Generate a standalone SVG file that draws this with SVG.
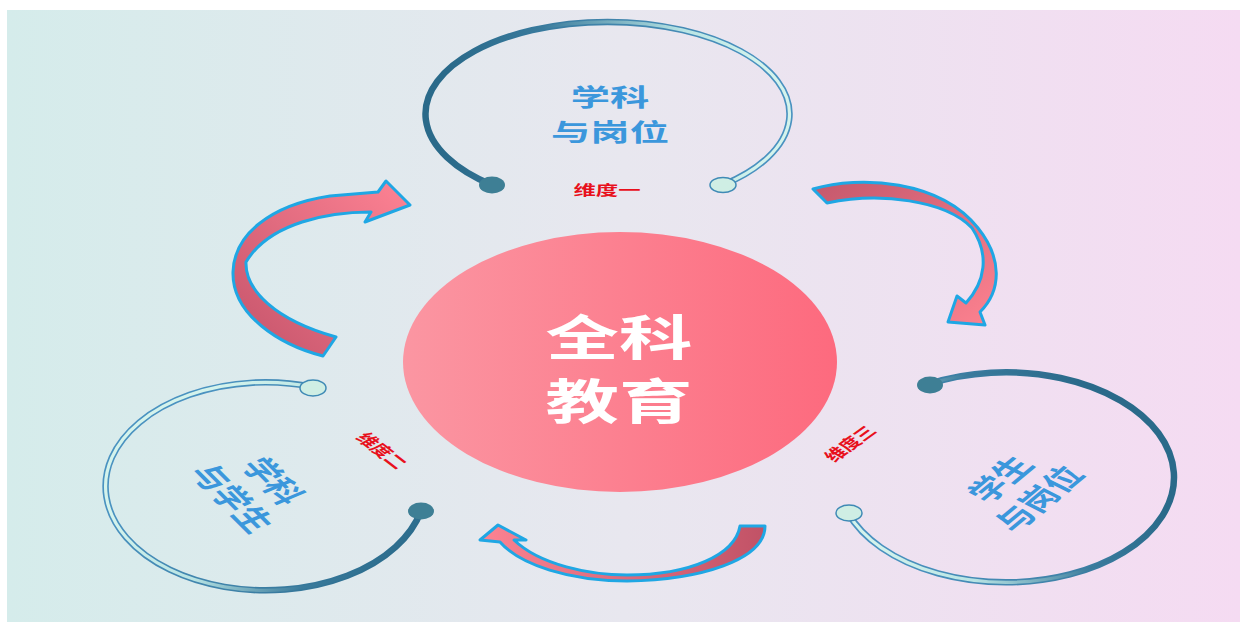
<svg xmlns="http://www.w3.org/2000/svg" width="1240" height="622" viewBox="0 0 1240 622">
<defs>
  <linearGradient id="bg" x1="0" y1="0" x2="1" y2="0">
    <stop offset="0" stop-color="#d5eceb"/>
    <stop offset="0.5" stop-color="#e8e7ef"/>
    <stop offset="1" stop-color="#f5dbf2"/>
  </linearGradient>
  <linearGradient id="core" x1="0" y1="0" x2="1" y2="0">
    <stop offset="0" stop-color="#fb96a2"/>
    <stop offset="1" stop-color="#fd6a7e"/>
  </linearGradient>
  <linearGradient id="a1" x1="0" y1="1" x2="1" y2="0">
    <stop offset="0" stop-color="#c4536a"/>
    <stop offset="1" stop-color="#fe8394"/>
  </linearGradient>
  <linearGradient id="a2" x1="0" y1="0" x2="1" y2="1">
    <stop offset="0" stop-color="#c4586c"/>
    <stop offset="1" stop-color="#fd8290"/>
  </linearGradient>
  <linearGradient id="a3" x1="1" y1="0" x2="0" y2="0">
    <stop offset="0" stop-color="#c15266"/>
    <stop offset="1" stop-color="#fc8392"/>
  </linearGradient>
  <linearGradient id="t_out" gradientUnits="userSpaceOnUse" x1="450" y1="0" x2="760" y2="0">
    <stop offset="0" stop-color="#2a6a8a"/>
    <stop offset="0.45" stop-color="#3f82a8"/>
    <stop offset="1" stop-color="#4a92c0"/>
  </linearGradient>
  <linearGradient id="t_in" gradientUnits="userSpaceOnUse" x1="450" y1="0" x2="760" y2="0">
    <stop offset="0" stop-color="#2a6a8a"/>
    <stop offset="0.3" stop-color="#3a7b9c"/>
    <stop offset="0.75" stop-color="#b8e4e4"/>
    <stop offset="1" stop-color="#d4f3ec"/>
  </linearGradient>
  <linearGradient id="l_out" gradientUnits="userSpaceOnUse" x1="190" y1="420" x2="390" y2="580">
    <stop offset="0" stop-color="#4a92c0"/>
    <stop offset="0.55" stop-color="#3f82a8"/>
    <stop offset="1" stop-color="#2a6a8a"/>
  </linearGradient>
  <linearGradient id="l_in" gradientUnits="userSpaceOnUse" x1="190" y1="420" x2="390" y2="580">
    <stop offset="0" stop-color="#d4f3ec"/>
    <stop offset="0.4" stop-color="#b8e4e4"/>
    <stop offset="0.75" stop-color="#3a7b9c"/>
    <stop offset="1" stop-color="#2a6a8a"/>
  </linearGradient>
  <linearGradient id="r_out" gradientUnits="userSpaceOnUse" x1="1110" y1="430" x2="890" y2="570">
    <stop offset="0" stop-color="#2a6a8a"/>
    <stop offset="0.45" stop-color="#3f82a8"/>
    <stop offset="1" stop-color="#4a92c0"/>
  </linearGradient>
  <linearGradient id="r_in" gradientUnits="userSpaceOnUse" x1="1110" y1="430" x2="890" y2="570">
    <stop offset="0" stop-color="#2a6a8a"/>
    <stop offset="0.35" stop-color="#3a7b9c"/>
    <stop offset="0.75" stop-color="#b8e4e4"/>
    <stop offset="1" stop-color="#d4f3ec"/>
  </linearGradient>
  <style>
    .cn { font-family: "Noto Sans CJK SC", "Noto Sans", sans-serif; font-weight: 700; text-anchor: middle; dominant-baseline: central; }
    .node { fill: #3b97dc; font-size: 25px; }
    .top { fill: #3b97dc; font-size: 24px; }
    .core { fill: #ffffff; font-size: 48px; }
    .dim { fill: #e8101c; font-size: 14px; }
    .arrow { stroke: #1fa7e4; stroke-width: 3; stroke-linejoin: round; }
    .ring-o { fill: none; stroke-width: 6.5; stroke-linecap: round; }
    .ring-i { fill: none; stroke-width: 3.2; stroke-linecap: round; }
    .dot-d { fill: #3e7f95; }
    .dot-l { fill: #cfeee4; stroke: #3f8ab5; stroke-width: 1.5; }
  </style>
</defs>
<rect x="0" y="0" width="1240" height="622" fill="#ffffff"/>
<rect x="7" y="10" width="1233" height="612" fill="url(#bg)"/>

<g id="connectors">
  <path class="arrow" fill="url(#a1)" d="M323,356 C280,345 232,315 233,272 C234,235 270,205 330,196 L378,192 L386,181 L410,205 L365,222 L371,212 C330,212 270,222 246,262 C245,290 275,320 336,337 Z"/>
  <path class="arrow" fill="url(#a2)" d="M813,189 C860,175 940,180 978,228 C1002,258 1002,290 980,312 L985,325 L948,322 L957,296 L966,303 C985,282 990,255 972,228 C945,200 880,192 827,203 Z"/>
  <path class="arrow" fill="url(#a3)" d="M765,526 C765,560 700,580 627,581 C570,581 520,565 500,542 L480,540 L498,525 L526,540 L514,540 C540,565 590,575 627,575 C690,575 735,555 740,526 Z"/>
</g>

<g id="core-node">
  <ellipse cx="620" cy="362" rx="217" ry="130" fill="url(#core)"/>
  <text class="cn core" transform="translate(619,0) scale(1.53,1)"><tspan x="0" y="334">全科</tspan><tspan x="0" y="398">教育</tspan></text>
</g>

<g id="node-top">
  <path class="ring-o" stroke="url(#t_out)" d="M492,185 A182 92 0 1 1 723,185"/>
  <path class="ring-i" stroke="url(#t_in)" d="M492,185 A182 92 0 1 1 723,185"/>
  <ellipse class="dot-d" cx="492" cy="185" rx="13" ry="8.5"/>
  <ellipse class="dot-l" cx="723" cy="185" rx="13" ry="7.5"/>
  <text class="cn top" transform="translate(610,0) scale(1.64,1)"><tspan x="0" y="94.5">学科</tspan><tspan x="0" y="129.5">与岗位</tspan></text>
  <text class="cn dim" transform="translate(607,189) scale(1.6,1)">维度一</text>
</g>

<g id="node-left">
  <path class="ring-o" stroke="url(#l_out)" d="M313,387 A160 104 0 1 0 421,511"/>
  <path class="ring-i" stroke="url(#l_in)" d="M313,387 A160 104 0 1 0 421,511"/>
  <ellipse class="dot-l" cx="313" cy="388" rx="13" ry="8"/>
  <ellipse class="dot-d" cx="421" cy="511" rx="13" ry="8.5"/>
  <text class="cn node" transform="translate(255.5,488.5) scale(1.54,1) rotate(57)"><tspan x="0" y="-16">学科</tspan><tspan x="0" y="16">与学生</tspan></text>
  <text class="cn dim" transform="translate(383,450) scale(1.54,1) rotate(50)">维度二</text>
</g>

<g id="node-right">
  <path class="ring-o" stroke="url(#r_out)" d="M929,384 A168 105 0 1 1 848,513"/>
  <path class="ring-i" stroke="url(#r_in)" d="M929,384 A168 105 0 1 1 848,513"/>
  <ellipse class="dot-d" cx="930" cy="385" rx="13" ry="8.5"/>
  <ellipse class="dot-l" cx="849" cy="513" rx="13" ry="8"/>
  <text class="cn node" transform="translate(1017,487.5) scale(1.54,1) rotate(-52)"><tspan x="0" y="-16">学生</tspan><tspan x="0" y="16">与岗位</tspan></text>
  <text class="cn dim" transform="translate(849,443) scale(1.54,1) rotate(-48)">维度三</text>
</g>
</svg>
